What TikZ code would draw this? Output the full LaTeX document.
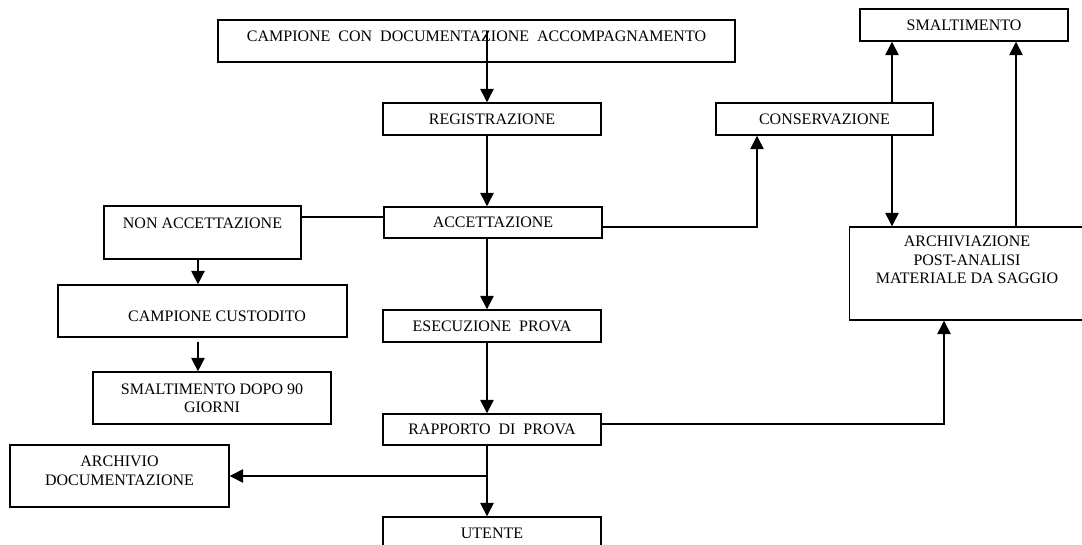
\documentclass[tikz,border=0pt]{standalone}
\usepackage{fontspec}
\setmainfont{Liberation Serif}
\usepackage{tikz}
\usetikzlibrary{arrows.meta}

\begin{document}
\begin{tikzpicture}[
  x=0.75pt, y=-0.75pt,
  every node/.style={font=\fontsize{12}{13.8}\selectfont},
  box/.style={rectangle, draw, line width=1.1pt, inner sep=0pt, align=center},
  stage/.style={box, minimum width=163.5pt, minimum height=24pt},
  arr/.style={-{Triangle[length=10pt, width=10pt]}, line width=1.1pt},
  link/.style={line width=1.1pt}
]
\useasboundingbox (0,0) rectangle (1082,545);

% Main flow
\node[box, minimum width=387.75pt, minimum height=31.5pt, text depth=6.8pt] (camp) at (476.5,41) {CAMPIONE~~CON~~DOCUMENTAZIONE~~ACCOMPAGNAMENTO};
\node[stage] (reg) at (492,119) {REGISTRAZIONE};
\node[stage, minimum height=23.25pt] (acc) at (493,222.5) {ACCETTAZIONE};
\node[stage] (esec) at (492,326) {ESECUZIONE~~PROVA};
\node[stage, minimum height=23.25pt] (rapp) at (492,429.5) {RAPPORTO~~DI~~PROVA};
\node[stage] (utente) at (492,533) {UTENTE};

% Rejected samples
\node[box, minimum width=147.75pt, minimum height=39.75pt, text depth=14.2pt] (nonacc) at (202.5,232.5) {NON ACCETTAZIONE};
\node[box, minimum width=216.75pt, minimum height=39pt, text height=15.4pt, text depth=0pt] (cust) at (202.5,311) {\hspace*{21.75pt}CAMPIONE CUSTODITO};
\node[box, minimum width=178.5pt, minimum height=39pt] (smalt90) at (212,398) {SMALTIMENTO DOPO 90\\GIORNI};
\node[box, minimum width=164.25pt, minimum height=46.5pt, text depth=8.2pt] (archdoc) at (119.5,476) {ARCHIVIO\\DOCUMENTAZIONE};

% Storage and disposal
\node[box, minimum width=162.75pt, minimum height=24pt] (cons) at (824.5,119) {CONSERVAZIONE};
\node[box, minimum width=156pt, minimum height=24pt] (smalt) at (964,25) {SMALTIMENTO};
\node[box, minimum width=176.25pt, minimum height=69.75pt, text depth=20.2pt] (archiv) at (967,273.5) {ARCHIVIAZIONE\\POST-ANALISI\\MATERIALE DA SAGGIO};

% Columns for the vertical connectors
\coordinate (spine) at (487,31);
\coordinate (split) at (487,476);
\coordinate (tocons) at (757,0);
\coordinate (consup) at (892,0);
\coordinate (archup) at (1016,0);
\coordinate (toarch) at (944,0);

% Arrows
\draw[arr] (spine) -- (reg.north -| spine);
\draw[arr] (reg.south -| spine) -- (acc.north -| spine);
\draw[arr] (acc.south -| spine) -- (esec.north -| spine);
\draw[arr] (esec.south -| spine) -- (rapp.north -| spine);
\draw[arr] (rapp.south -| spine) -- (utente.north -| spine);
\draw[arr] (split) -- (archdoc.east);

\draw[link] ([yshift=4.1pt]acc.west) -- ([yshift=11.6pt]nonacc.east);
\draw[arr] ([xshift=-3.4pt]nonacc.south) -- ([xshift=-3.4pt]nonacc.south |- cust.north);
\draw[arr, shorten <=3pt] ([xshift=-3.4pt]cust.south) -- ([xshift=-3.4pt]cust.south |- smalt90.north);

\draw[arr] ([yshift=-3.4pt]acc.east) -| (cons.south -| tocons);
\draw[arr] (cons.north -| consup) -- (smalt.south -| consup);
\draw[arr] (cons.south -| consup) -- (archiv.north -| consup);
\draw[arr] (archiv.north -| archup) -- (smalt.south -| archup);
\draw[arr] ([yshift=4.1pt]rapp.east) -| (archiv.south -| toarch);

\end{tikzpicture}
\end{document}
